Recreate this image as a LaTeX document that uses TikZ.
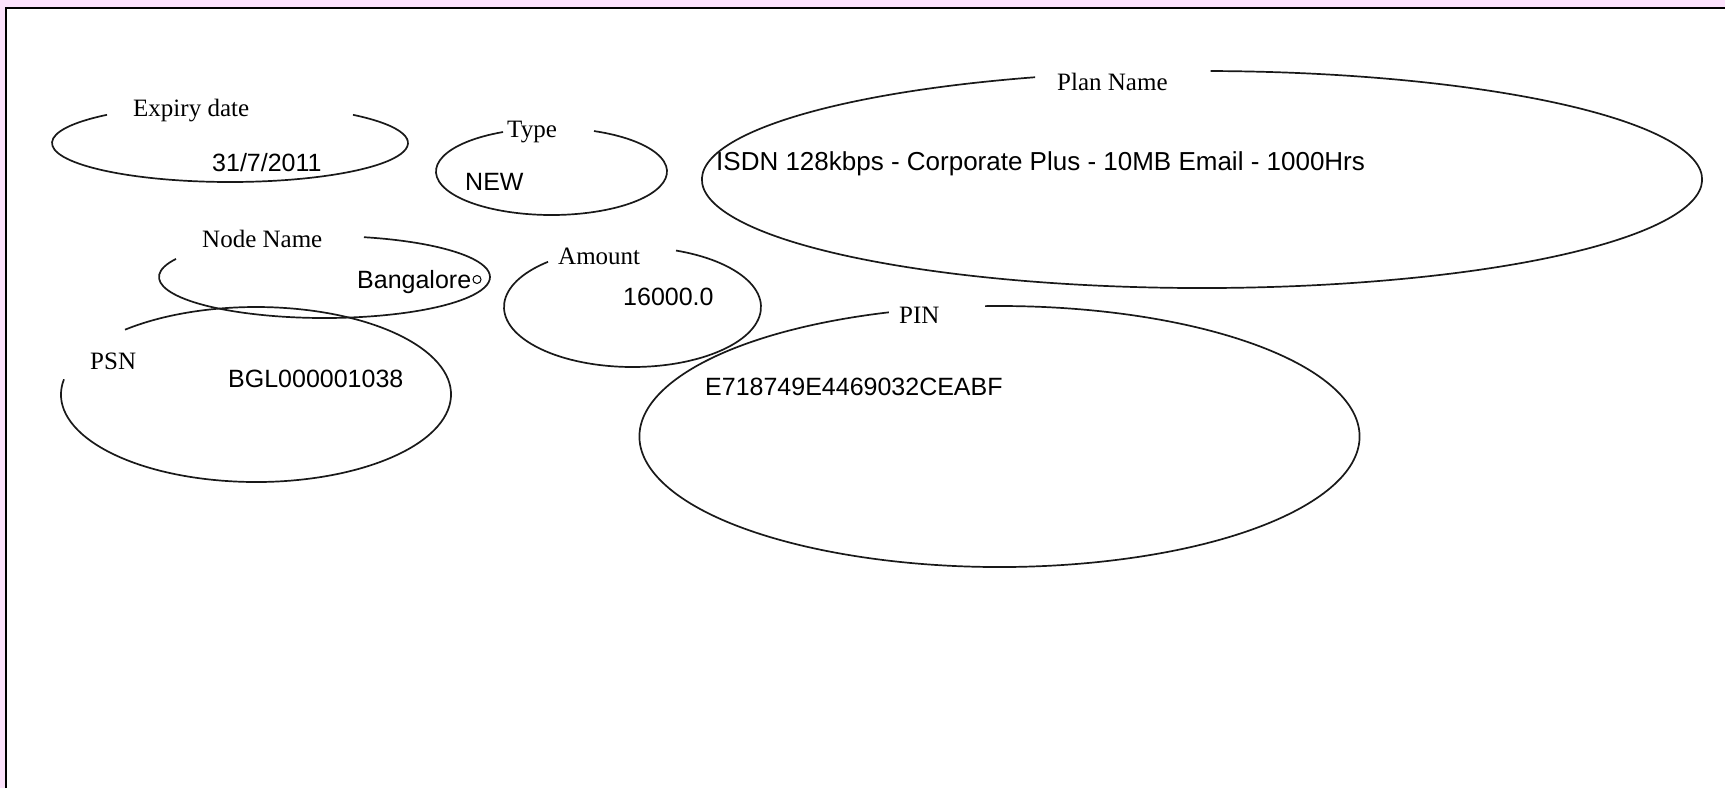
\documentclass[tikz,border=0pt]{standalone}
\usepackage{fontspec}
\setmainfont{Liberation Serif}
\newfontfamily\arialf{Liberation Sans}
\definecolor{pinkbg}{RGB}{252,226,252}
\tikzset{
  ell/.style={draw=black!90, line width=1.7pt},
  lbl/.style={anchor=base west, inner sep=0pt, font=\fontsize{25}{30}\selectfont},
  val/.style={anchor=base west, inner sep=0pt, font=\arialf\fontsize{25}{30}\selectfont},
}
% center x, center y, rx, ry, start angle, end angle
\newcommand\openell[6]{\draw[ell] ([shift={(#5:#3pt and #4pt)}]#1,#2) arc[start angle=#5,end angle=#6,x radius=#3pt,y radius=#4pt];}
\begin{document}
\begin{tikzpicture}[x=1pt,y=-1pt]
\useasboundingbox (0,0) rectangle (1725,788);
\fill[pinkbg] (0,0) rectangle (1725,788);
\fill[white] (7,9) rectangle (1725,788);
\draw[black, line width=2pt] (6,788) -- (6,8) -- (1725,8);

% Expiry date
\openell{230}{143}{178}{39}{133.7}{406.3}
\node[lbl] (expl) at (133,116) {Expiry date};
\node[val] (expv) at (212,171) {31/7/2011};

% Type
\openell{551.5}{171.5}{115.5}{43.5}{114.8}{428.4}
\node[lbl] (typl) at (507,137) {Type};
\node[val] (typv) at (465,190) {NEW};

% Node Name
\openell{324.5}{277}{165.5}{41}{153.8}{436.2}
\node[lbl] (nodl) at (202,247) {Node Name};
\node[val] (nodv) at (357,288) {Bangalore};
\draw[black, line width=1pt] (477,279.5) circle[radius=4pt];

% Amount
\openell{632.5}{307}{128.5}{60}{131.1}{430.2}
\node[lbl] (amtl) at (558,264) {Amount};
\node[val] (amtv) at (623,305) {16000.0};

% PSN
\openell{256}{394.5}{195}{87.5}{170}{492.2}
\node[lbl] (psnl) at (90,369) {PSN};
\node[val] (psnv) at (228,387) {BGL000001038};

% Plan Name
\openell{1202}{179.5}{500}{108.5}{109.5}{449}
\node[lbl] (plnl) at (1057,90) {Plan Name};
\node[val, font=\arialf\fontsize{26}{30}\selectfont] (plnv) at (716,170) {ISDN 128kbps - Corporate Plus - 10MB Email - 1000Hrs};

% PIN
\openell{999.5}{436.5}{360}{130.5}{107.9}{452.3}
\node[lbl] (pinl) at (899,323) {PIN};
\node[val] (pinv) at (705,395) {E718749E4469032CEABF};
\end{tikzpicture}
\end{document}
